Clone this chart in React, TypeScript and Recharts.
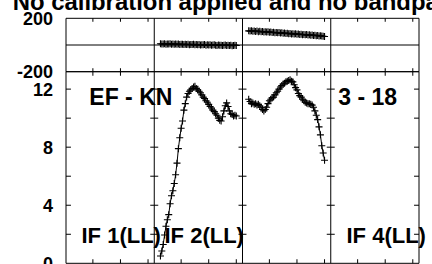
import React from 'react';
import { ComposedChart, Line, XAxis, YAxis, ReferenceLine } from 'recharts';

// channels kept per IF (64 channels each, edges flagged)
const CHANNELS = [
  5, 6, 7, 8, 9, 10, 11, 12, 13, 14, 15, 16, 17, 18, 19, 20, 21, 22, 23, 24,
  25, 26, 27, 28, 29, 30, 31, 32, 33, 34, 35, 36, 37, 38, 39, 40, 41, 42, 43, 44,
  45, 46, 47, 48, 49, 50, 51, 52, 53, 54, 55, 56, 57, 58, 59, 60,
];

// phase (degrees)
const PHASE_IF2 = [
  9, 7, 8, 10, 6, 8, 7, 9, 5, 8, 6, 7, 5, 7, 4, 6, 5, 3, 6, 4,
  5, 2, 4, 3, 5, 1, 3, 2, 4, 0, 2, 1, 3, -1, 1, 0, 2, -2, 0, 1,
  -1, -3, 0, -2, -1, -4, -2, 0, -3, -1, -4, -2, -5, -3, -1, -4,
];
const PHASE_IF3 = [
  106, 104, 107, 103, 105, 102, 104, 100, 103, 99, 101, 98, 100, 97, 99, 95, 97, 94, 96, 92,
  94, 91, 93, 89, 91, 88, 90, 86, 88, 85, 87, 83, 85, 82, 84, 80, 82, 79, 81, 77,
  79, 76, 78, 74, 76, 73, 75, 71, 73, 70, 72, 68, 70, 67, 66, 64,
];

// amplitude
const AMP_IF2 = [
  0.5, 0.85, 1.3, 1.95, 2.55, 3.0, 3.35, 4.1, 4.65, 5.0, 5.5, 6.1, 6.9, 7.9, 8.65, 9.3, 9.8, 10.55, 11.0, 11.45,
  11.7, 11.85, 11.95, 12.05, 12.15, 12.2, 12.05, 11.95, 11.85, 11.75, 11.6, 11.45, 11.35, 11.2, 11.1, 10.95, 10.8, 10.7, 10.55, 10.45,
  10.3, 10.2, 10.0, 9.85, 9.8, 10.1, 10.5, 10.85, 11.05, 10.8, 10.5, 10.3, 10.25, 10.15, 10.2, 10.15,
];
const AMP_IF3 = [
  11.3, 11.15, 11.0, 11.05, 10.95, 11.0, 10.9, 10.95, 10.85, 10.75, 10.6, 10.5, 10.6, 10.75, 11.0, 11.2, 11.3, 11.4, 11.45, 11.6,
  11.75, 11.85, 12.0, 12.15, 12.25, 12.35, 12.4, 12.5, 12.55, 12.6, 12.65, 12.55, 12.5, 12.3, 12.1, 11.95, 11.7, 11.55, 11.45, 11.3,
  11.2, 11.1, 11.05, 11.0, 11.0, 10.95, 10.9, 10.75, 10.5, 10.2, 9.9, 9.4, 8.85, 8.1, 7.6, 7.1,
];

const TITLE = 'No calibration applied and no bandpass applied';
const BASELINE = 'EF - KN';
const SCAN = '3 - 18';
const IF_LABELS = ['IF 1(LL)', 'IF 2(LL)', 'IF 4(LL)'];

const NCHAN = 64;
const X_MIN = 0.5;
const X_MAX = 256.5;
const X_TICKS = [20, 40, 60, 84, 104, 124, 148, 168, 188, 212, 232, 252];
const IF_EDGES = [64.5, 128.5, 192.5];
const PHASE_MIN = -200;
const PHASE_MAX = 200;
const PHASE_TICKS = [-200, 200];
const AMP_MAX = 13.2;
const AMP_TICKS = [0, 2, 4, 6, 8, 10, 12];

const FONT = '"Liberation Sans", Arial, Helvetica, sans-serif';
const TICK = { fill: '#000', fontSize: 18, fontWeight: 700, fontFamily: FONT };

// tick lengths, in data units of each axis
const Y_TICK_CH = 3.6; // ~5px
const EDGE_TICK_CH = 2.9; // ~4px each side
const AMP_X_TICK = 0.28; // ~4px
const PHASE_X_TICK = 26; // ~3.5px

const toPoints = (vals: number[], ifIndex: number) =>
  vals.map((v, i) => ({ x: ifIndex * NCHAN + CHANNELS[i], y: v }));

const plus = (props: any) => {
  const { cx, cy, index } = props;
  if (cx == null || cy == null) return <g key={index} />;
  return (
    <path
      key={index}
      d={`M${cx - 3.5},${cy}h7M${cx},${cy - 3.5}v7`}
      stroke="#000"
      strokeWidth={1.1}
      fill="none"
    />
  );
};

const series = (data: { x: number; y: number }[], key: string) => (
  <Line
    key={key}
    yAxisId="l"
    data={data}
    dataKey="y"
    type="linear"
    stroke="#000"
    strokeWidth={1}
    dot={plus}
    activeDot={false}
    isAnimationActive={false}
  />
);

const seg = (key: string, x1: number, y1: number, x2: number, y2: number) => (
  <ReferenceLine
    key={key}
    yAxisId="l"
    segment={[{ x: x1, y: y1 }, { x: x2, y: y2 }]}
    stroke="#000"
    strokeWidth={1}
    ifOverflow="visible"
  />
);

// frame, IF borders and inward ticks for one panel
function frame(prefix: string, yMin: number, yMax: number, yTicks: number[], xTick: number, edgeTicks: number[]) {
  const out: React.ReactNode[] = [
    seg(prefix + 'fl', X_MIN, yMin, X_MIN, yMax),
    seg(prefix + 'fr', X_MAX, yMin, X_MAX, yMax),
    seg(prefix + 'fb', X_MIN, yMin, X_MAX, yMin),
    seg(prefix + 'ft', X_MIN, yMax, X_MAX, yMax),
  ];
  IF_EDGES.forEach((e) => out.push(seg(prefix + 'e' + e, e, yMin, e, yMax)));
  X_TICKS.forEach((t) => {
    out.push(seg(prefix + 'xb' + t, t, yMin, t, yMin + xTick));
    out.push(seg(prefix + 'xt' + t, t, yMax, t, yMax - xTick));
  });
  yTicks.forEach((v) => {
    out.push(seg(prefix + 'yl' + v, X_MIN, v, X_MIN + Y_TICK_CH, v));
    out.push(seg(prefix + 'yr' + v, X_MAX, v, X_MAX - Y_TICK_CH, v));
  });
  IF_EDGES.forEach((e) =>
    edgeTicks.forEach((v) => out.push(seg(prefix + 'et' + e + '-' + v, e - EDGE_TICK_CH, v, e + EDGE_TICK_CH, v)))
  );
  return out;
}

export default function App() {
  return (
    <div style={{ position: 'fixed', left: 0, top: 0, width: 432, height: 264, overflow: 'hidden', background: '#fff' }}>
      {/* amplitude panel */}
      <div style={{ position: 'absolute', left: 0, top: 0 }}>
        <ComposedChart width={432} height={264} margin={{ top: 71.7, right: 13, bottom: 0.7, left: 0 }}>
          <XAxis type="number" dataKey="x" domain={[X_MIN, X_MAX]} ticks={X_TICKS} allowDataOverflow
            height={0} tick={false} axisLine={false} tickLine={false} />
          <YAxis yAxisId="l" type="number" domain={[0, AMP_MAX]} ticks={[0, 4, 8, 12]} interval={0} allowDataOverflow
            width={66} tickSize={0} tickMargin={13} tick={TICK} axisLine={false} tickLine={false} />
          {frame('a', 0, AMP_MAX, AMP_TICKS.slice(1), AMP_X_TICK, AMP_TICKS.slice(1))}
          {series(toPoints(AMP_IF2, 1), 'a2')}
          {series(toPoints(AMP_IF3, 2), 'a3')}
        </ComposedChart>
      </div>

      {/* phase panel */}
      <div style={{ position: 'absolute', left: 0, top: 0 }}>
        <ComposedChart width={432} height={90} margin={{ top: 18.3, right: 13, bottom: 18.3, left: 0 }}>
          <XAxis type="number" dataKey="x" domain={[X_MIN, X_MAX]} ticks={X_TICKS} allowDataOverflow
            height={0} tick={false} axisLine={false} tickLine={false} />
          <YAxis yAxisId="l" type="number" domain={[PHASE_MIN, PHASE_MAX]} ticks={PHASE_TICKS} interval={0} allowDataOverflow
            width={66} tickSize={0} tickMargin={13} tick={TICK} axisLine={false} tickLine={false} />
          {frame('p', PHASE_MIN, PHASE_MAX, [], PHASE_X_TICK, [])}
          <ReferenceLine yAxisId="l" y={0} stroke="#000" strokeWidth={1} />
          {series(toPoints(PHASE_IF2, 1), 'p2')}
          {series(toPoints(PHASE_IF3, 2), 'p3')}
        </ComposedChart>
      </div>

      {/* title and panel labels */}
      <svg width={432} height={264} style={{ position: 'absolute', left: 0, top: 0, pointerEvents: 'none' }}
        fontFamily={FONT} fontWeight={700} fill="#000">
        <text x={12.7} y={10} fontSize={23.9}>{TITLE}</text>
        <text x={89.3} y={105} fontSize={23}>{BASELINE}</text>
        <text x={338.3} y={105} fontSize={23}>{SCAN}</text>
        <text x={81.5} y={242.5} fontSize={22}>{IF_LABELS[0]}</text>
        <text x={164.5} y={242.5} fontSize={22}>{IF_LABELS[1]}</text>
        <text x={346.5} y={242.5} fontSize={22}>{IF_LABELS[2]}</text>
      </svg>
    </div>
  );
}
